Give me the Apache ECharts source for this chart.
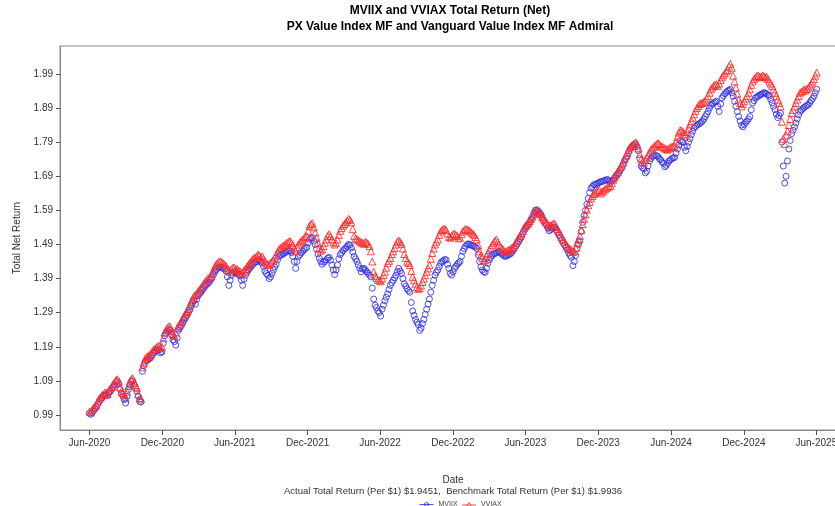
<!DOCTYPE html>
<html>
<head>
<meta charset="utf-8">
<title>MVIIX and VVIAX Total Return (Net)</title>
<script src="https://cdn.jsdelivr.net/npm/echarts@6/dist/echarts.min.js"></script>
<style>
  html, body { margin: 0; padding: 0; background: #fff; }
  #chart { width: 835px; height: 506px; }
</style>
</head>
<body>
<div id="chart"></div>
<script>
// weekly observations starting Mon 1 Jun 2020, plus a mid-week reading
const weekStart = Date.UTC(2020, 5, 1);
const dayMs = 86400000;
const weekMs = 7 * dayMs;

// VVIAX - Vanguard Value Index MF Admiral (benchmark), start of week
const vviax = [
  1.000,1.005,1.015,1.030,1.042,1.050,1.055,1.062,1.072,1.085,
  1.095,1.072,1.055,1.040,1.075,1.095,1.085,1.070,1.040,1.130,
  1.155,1.162,1.168,1.182,1.188,1.192,1.190,1.232,1.245,1.248,
  1.225,1.232,1.252,1.265,1.280,1.295,1.310,1.330,1.342,1.352,
  1.362,1.375,1.385,1.392,1.405,1.425,1.435,1.440,1.435,1.428,
  1.415,1.418,1.422,1.418,1.412,1.408,1.418,1.430,1.440,1.450,
  1.455,1.458,1.455,1.440,1.432,1.436,1.445,1.458,1.475,1.482,
  1.488,1.495,1.500,1.488,1.470,1.490,1.500,1.508,1.515,1.545,
  1.552,1.525,1.495,1.472,1.485,1.505,1.520,1.505,1.490,1.505,
  1.530,1.545,1.555,1.565,1.555,1.515,1.505,1.500,1.495,1.498,
  1.492,1.470,1.410,1.392,1.385,1.390,1.410,1.435,1.450,1.470,
  1.490,1.502,1.492,1.462,1.440,1.430,1.395,1.375,1.360,1.370,
  1.390,1.410,1.430,1.465,1.490,1.505,1.528,1.535,1.532,1.512,
  1.515,1.522,1.515,1.510,1.528,1.535,1.532,1.525,1.518,1.505,
  1.470,1.450,1.445,1.465,1.480,1.495,1.505,1.490,1.478,1.470,
  1.472,1.476,1.482,1.495,1.510,1.522,1.538,1.548,1.558,1.572,
  1.588,1.585,1.578,1.565,1.555,1.545,1.548,1.550,1.535,1.520,
  1.505,1.490,1.480,1.474,1.470,1.495,1.515,1.550,1.578,1.605,
  1.625,1.638,1.645,1.650,1.645,1.652,1.658,1.662,1.680,1.695,
  1.710,1.722,1.740,1.758,1.775,1.782,1.790,1.772,1.740,1.730,
  1.745,1.760,1.772,1.780,1.787,1.780,1.775,1.770,1.772,1.776,
  1.780,1.805,1.825,1.820,1.812,1.830,1.852,1.872,1.890,1.902,
  1.905,1.912,1.925,1.945,1.955,1.960,1.962,1.980,1.992,2.002,
  2.020,1.985,1.950,1.915,1.895,1.910,1.925,1.945,1.968,1.980,
  1.985,1.980,1.984,1.982,1.968,1.955,1.935,1.915,1.895,1.800,
  1.810,1.840,1.875,1.895,1.915,1.935,1.940,1.942,1.950,1.962,
  1.975,1.994
];

// VVIAX mid-week
const vviaxMid = [
  0.998,1.012,1.020,1.038,1.048,1.056,1.052,1.068,1.080,1.092,
  1.088,1.060,1.050,1.058,1.088,1.098,1.078,1.052,1.038,1.142,
  1.160,1.166,1.175,1.184,1.192,1.186,1.215,1.240,1.250,1.236,
  1.222,1.245,1.258,1.274,1.288,1.302,1.322,1.338,1.345,1.358,
  1.368,1.380,1.390,1.398,1.415,1.432,1.440,1.438,1.430,1.420,
  1.410,1.422,1.416,1.414,1.405,1.414,1.425,1.436,1.446,1.452,
  1.460,1.452,1.448,1.434,1.430,1.440,1.452,1.468,1.480,1.486,
  1.492,1.498,1.495,1.478,1.482,1.496,1.504,1.512,1.530,1.550,
  1.540,1.510,1.480,1.476,1.495,1.515,1.514,1.498,1.494,1.518,
  1.538,1.550,1.560,1.562,1.535,1.508,1.502,1.496,1.492,1.496,
  1.485,1.440,1.398,1.386,1.382,1.400,1.422,1.442,1.462,1.480,
  1.498,1.498,1.478,1.450,1.436,1.412,1.385,1.365,1.362,1.380,
  1.400,1.420,1.448,1.478,1.498,1.518,1.532,1.536,1.522,1.510,
  1.520,1.518,1.508,1.520,1.532,1.534,1.530,1.522,1.512,1.488,
  1.458,1.442,1.455,1.474,1.488,1.500,1.498,1.484,1.474,1.468,
  1.474,1.480,1.488,1.502,1.516,1.530,1.544,1.552,1.565,1.580,
  1.590,1.582,1.570,1.560,1.548,1.546,1.552,1.542,1.528,1.512,
  1.498,1.485,1.476,1.468,1.480,1.505,1.532,1.565,1.592,1.615,
  1.632,1.642,1.648,1.640,1.648,1.655,1.660,1.670,1.688,1.702,
  1.716,1.730,1.750,1.768,1.780,1.786,1.785,1.755,1.732,1.738,
  1.752,1.768,1.776,1.784,1.784,1.776,1.772,1.768,1.775,1.778,
  1.792,1.818,1.824,1.815,1.820,1.842,1.862,1.882,1.896,1.904,
  1.908,1.918,1.935,1.950,1.958,1.955,1.972,1.986,1.998,2.012,
  2.008,1.968,1.932,1.905,1.902,1.918,1.935,1.958,1.975,1.984,
  1.982,1.986,1.980,1.975,1.962,1.945,1.925,1.905,1.850,1.785,
  1.822,1.858,1.885,1.905,1.925,1.938,1.945,1.946,1.956,1.968,
  1.985
];

// MVIIX - PX Value Index MF (actual), start of week
const mviix = [
  0.995,0.998,1.008,1.022,1.035,1.045,1.050,1.055,1.065,1.078,
  1.090,1.065,1.045,1.025,1.065,1.088,1.080,1.060,1.030,1.118,
  1.145,1.152,1.158,1.172,1.178,1.180,1.175,1.222,1.235,1.238,
  1.210,1.195,1.238,1.252,1.268,1.282,1.298,1.318,1.315,1.340,
  1.350,1.362,1.372,1.380,1.392,1.410,1.420,1.425,1.420,1.412,
  1.370,1.400,1.410,1.405,1.398,1.370,1.400,1.415,1.425,1.435,
  1.440,1.442,1.435,1.412,1.400,1.395,1.415,1.432,1.455,1.460,
  1.465,1.470,1.472,1.455,1.420,1.455,1.465,1.475,1.482,1.505,
  1.510,1.490,1.462,1.440,1.438,1.445,1.452,1.430,1.402,1.430,
  1.460,1.472,1.480,1.490,1.480,1.455,1.440,1.420,1.418,1.415,
  1.405,1.395,1.330,1.305,1.290,1.300,1.325,1.345,1.370,1.385,
  1.400,1.420,1.405,1.375,1.360,1.350,1.295,1.270,1.255,1.245,
  1.270,1.300,1.330,1.370,1.400,1.415,1.435,1.442,1.445,1.420,
  1.400,1.420,1.432,1.440,1.470,1.485,1.492,1.488,1.485,1.478,
  1.440,1.415,1.408,1.435,1.452,1.462,1.465,1.470,1.462,1.455,
  1.458,1.462,1.472,1.485,1.498,1.512,1.532,1.545,1.556,1.572,
  1.590,1.588,1.578,1.560,1.548,1.530,1.538,1.540,1.525,1.510,
  1.495,1.482,1.465,1.452,1.440,1.478,1.500,1.555,1.590,1.625,
  1.655,1.665,1.668,1.672,1.675,1.678,1.680,1.672,1.680,1.692,
  1.700,1.715,1.735,1.750,1.770,1.778,1.785,1.765,1.720,1.712,
  1.705,1.735,1.748,1.752,1.748,1.738,1.728,1.722,1.735,1.742,
  1.745,1.770,1.795,1.790,1.765,1.790,1.812,1.832,1.840,1.845,
  1.852,1.865,1.880,1.898,1.905,1.910,1.880,1.920,1.932,1.940,
  1.945,1.925,1.895,1.865,1.840,1.842,1.852,1.865,1.905,1.920,
  1.925,1.930,1.935,1.932,1.925,1.905,1.885,1.862,1.875,1.720,
  1.690,1.770,1.815,1.835,1.858,1.880,1.888,1.895,1.900,1.912,
  1.925,1.945
];

// MVIIX mid-week
const mviixMid = [
  0.992,1.003,1.015,1.030,1.040,1.048,1.046,1.060,1.072,1.085,
  1.082,1.052,1.035,1.045,1.078,1.090,1.070,1.045,1.028,1.135,
  1.150,1.155,1.165,1.176,1.182,1.172,1.200,1.230,1.240,1.225,
  1.205,1.215,1.246,1.260,1.275,1.290,1.310,1.325,1.330,1.346,
  1.356,1.368,1.376,1.386,1.402,1.416,1.424,1.422,1.418,1.395,
  1.385,1.406,1.408,1.402,1.385,1.388,1.408,1.420,1.430,1.438,
  1.445,1.438,1.425,1.405,1.390,1.405,1.424,1.445,1.458,1.462,
  1.468,1.472,1.466,1.440,1.440,1.460,1.470,1.478,1.495,1.508,
  1.500,1.476,1.450,1.432,1.440,1.450,1.444,1.415,1.415,1.448,
  1.466,1.476,1.485,1.488,1.468,1.448,1.430,1.410,1.420,1.410,
  1.400,1.362,1.312,1.295,1.280,1.312,1.335,1.358,1.378,1.392,
  1.410,1.412,1.390,1.368,1.355,1.320,1.282,1.262,1.238,1.258,
  1.285,1.315,1.350,1.385,1.408,1.425,1.440,1.446,1.432,1.405,
  1.410,1.426,1.436,1.455,1.478,1.490,1.490,1.486,1.482,1.460,
  1.425,1.410,1.420,1.445,1.458,1.464,1.468,1.466,1.458,1.456,
  1.460,1.466,1.478,1.492,1.505,1.522,1.540,1.550,1.564,1.582,
  1.592,1.584,1.570,1.552,1.538,1.534,1.540,1.532,1.518,1.502,
  1.488,1.474,1.458,1.428,1.458,1.490,1.528,1.575,1.608,1.642,
  1.660,1.666,1.670,1.674,1.676,1.680,1.676,1.676,1.686,1.696,
  1.708,1.725,1.742,1.760,1.775,1.782,1.776,1.742,1.715,1.700,
  1.720,1.742,1.750,1.750,1.742,1.732,1.718,1.728,1.738,1.744,
  1.758,1.782,1.792,1.775,1.778,1.800,1.822,1.836,1.842,1.848,
  1.858,1.872,1.890,1.902,1.908,1.895,1.902,1.926,1.936,1.942,
  1.935,1.910,1.880,1.852,1.835,1.848,1.858,1.885,1.912,1.922,
  1.928,1.932,1.934,1.928,1.915,1.895,1.872,1.868,1.790,1.670,
  1.735,1.795,1.825,1.846,1.870,1.884,1.892,1.898,1.906,1.918,
  1.935
];

// tick positions
const xTicks = [
  Date.UTC(2020, 5, 1), Date.UTC(2020, 11, 1), Date.UTC(2021, 5, 1), Date.UTC(2021, 11, 1),
  Date.UTC(2022, 5, 1), Date.UTC(2022, 11, 1), Date.UTC(2023, 5, 1), Date.UTC(2023, 11, 1),
  Date.UTC(2024, 5, 1), Date.UTC(2024, 11, 1), Date.UTC(2025, 5, 1)
];
const yTicks = [0.99, 1.09, 1.19, 1.29, 1.39, 1.49, 1.59, 1.69, 1.79, 1.89, 1.99];

const monthNames = ['Jan','Feb','Mar','Apr','May','Jun','Jul','Aug','Sep','Oct','Nov','Dec'];
const blue = '#2f2fe6';
const red = '#ff2b2b';
const axisGray = '#8a8a8a';
const fontFam = '"Liberation Sans Narrow", "Liberation Sans", Arial, sans-serif';

// merge start-of-week and mid-week readings into [date, value] pairs
const toPairs = (vals, mids) => {
  const out = [];
  vals.forEach((v, i) => {
    out.push([weekStart + i * weekMs, v]);
    if (i < mids.length) out.push([weekStart + i * weekMs + 3.5 * dayMs, mids[i]]);
  });
  return out;
};

const chart = echarts.init(document.getElementById('chart'), null, { renderer: 'canvas' });

const option = {
  backgroundColor: '#fff',
  animation: false,
  textStyle: { fontFamily: fontFam },
  grid: {
    // plot frame runs past the right edge of the page, as in the original
    left: 60, top: 46, width: 785, height: 384,
    outerBoundsMode: 'none',
    containLabel: false,
    show: true, borderColor: axisGray, borderWidth: 1, backgroundColor: '#fff'
  },
  xAxis: {
    // dates kept as timestamps on a plain value axis so the labels can sit on Jun / Dec
    type: 'value',
    min: Date.UTC(2020, 2, 19),
    max: Date.UTC(2025, 7, 12),
    axisLine: { show: true, lineStyle: { color: axisGray } },
    axisTick: { show: true, length: 5, lineStyle: { color: '#555' }, customValues: xTicks },
    axisLabel: {
      customValues: xTicks,
      color: '#333', fontSize: 10, fontFamily: fontFam, margin: 8,
      formatter: (v) => {
        const d = new Date(v);
        return monthNames[d.getUTCMonth()] + '-' + d.getUTCFullYear();
      }
    },
    splitLine: { show: false }
  },
  yAxis: {
    type: 'value',
    min: 0.946,
    max: 2.072,
    name: 'Total Net Return',
    nameLocation: 'middle',
    nameGap: 37,
    nameTextStyle: { color: '#333', fontSize: 10, fontFamily: fontFam },
    axisLine: { show: true, lineStyle: { color: axisGray } },
    axisTick: { show: true, length: 4, lineStyle: { color: '#555' }, customValues: yTicks },
    axisLabel: {
      customValues: yTicks,
      color: '#333', fontSize: 10, fontFamily: fontFam, margin: 7,
      formatter: (v) => v.toFixed(2)
    },
    splitLine: { show: false }
  },
  legend: {
    left: 414,
    top: 496,
    itemWidth: 14,
    itemHeight: 5,
    itemGap: 4,
    textStyle: { fontSize: 7, color: '#444', fontFamily: fontFam },
    data: [
      {
        name: 'MVIIX',
        icon: 'path://M0,4H14M9,4A2,2,0,1,1,5,4A2,2,0,1,1,9,4',
        itemStyle: { color: 'rgba(0,0,0,0)', borderColor: blue, borderWidth: 1 }
      },
      {
        name: 'VVIAX',
        icon: 'path://M0,4H14M7,1.5L9.5,5.5H4.5Z',
        itemStyle: { color: 'rgba(0,0,0,0)', borderColor: red, borderWidth: 1 }
      }
    ]
  },
  graphic: [
    {
      type: 'text', x: 450, y: 5,
      style: { text: 'MVIIX and VVIAX Total Return (Net)', fill: '#000',
        font: 'bold 12px ' + fontFam, textAlign: 'center' }
    },
    {
      type: 'text', x: 450, y: 21,
      style: { text: 'PX Value Index MF and Vanguard Value Index MF Admiral', fill: '#000',
        font: 'bold 12px ' + fontFam, textAlign: 'center' }
    },
    {
      type: 'text', x: 453, y: 475,
      style: { text: 'Date', fill: '#333', font: '10px ' + fontFam, textAlign: 'center' }
    },
    {
      type: 'text', x: 453, y: 486,
      style: { text: 'Actual Total Return (Per $1) $1.9451,  Benchmark Total Return (Per $1) $1.9936',
        fill: '#333', font: '9.5px ' + fontFam, textAlign: 'center' }
    }
  ],
  series: [
    {
      name: 'MVIIX',
      type: 'scatter',
      symbol: 'circle',
      symbolSize: 6,
      itemStyle: { color: 'rgba(0,0,0,0)', borderColor: blue, borderWidth: 1, opacity: 0.85 },
      data: toPairs(mviix, mviixMid)
    },
    {
      name: 'VVIAX',
      type: 'scatter',
      symbol: 'triangle',
      symbolSize: 7,
      itemStyle: { color: 'rgba(0,0,0,0)', borderColor: red, borderWidth: 1, opacity: 0.85 },
      data: toPairs(vviax, vviaxMid)
    }
  ]
};

chart.setOption(option);

window.addEventListener('resize', () => {
  chart.resize();
});
</script>
</body>
</html>
